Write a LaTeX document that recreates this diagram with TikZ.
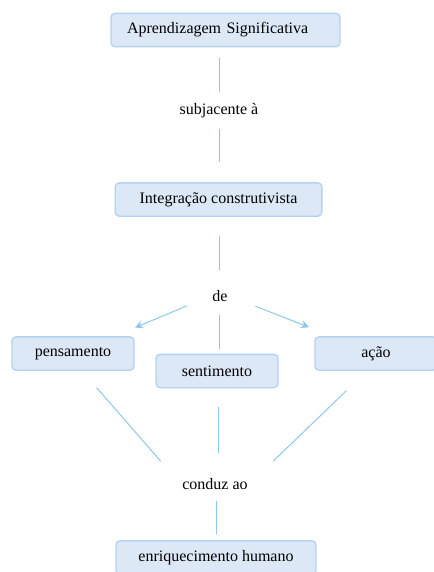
\documentclass[tikz,border=0pt]{standalone}
\usepackage{fontspec}
\setmainfont{Liberation Serif}
\usetikzlibrary{arrows.meta}
\definecolor{boxfill}{RGB}{220,232,246}
\definecolor{boxline}{RGB}{180,210,240}
\definecolor{linkline}{RGB}{140,200,235}
\tikzset{
	conceito/.style={draw=boxline, fill=boxfill, rounded corners=3pt, line width=1pt, minimum height=25pt, inner sep=2pt, font=\fontsize{12}{14}\selectfont},
	frase/.style={inner sep=1pt, font=\fontsize{12}{14}\selectfont},
	ligacao/.style={draw=linkline, line width=0.75pt},
	seta/.style={ligacao, -{Stealth[length=6pt,width=6pt]}}}
\tikzset{every picture/.style={line width=0.75pt}}

\begin{document}
\begin{tikzpicture}[x=0.75pt,y=0.75pt,yscale=-1,xscale=1]
	\useasboundingbox (0,0) rectangle (433,572);

	% Conceitos
	\node [conceito, inner xsep=12pt, text width=147.75pt, align=left] (aprend) at (225.5,30) {Aprendizagem Significativa};
	\node [conceito, minimum width=155pt] (integ) at (218.5,199.5) {Integração construtivista};
	\node [conceito, minimum width=91.5pt] (pens) at (73,353.5) {pensamento};
	\node [conceito, minimum width=91.5pt] (sent) at (217,371) {sentimento};
	\node [conceito, minimum width=91.5pt] (acao) at (376,353.5) {ação};
	\node [conceito, minimum width=150pt] (enriq) at (216,557.5) {enriquecimento humano};

	% Frases de ligacao
	\node [frase] (subj) at (219,111) {subjacente à};
	\node [frase] (de) at (220,296) {de};
	\node [frase] (conduz) at (215,484) {conduz ao};

	% Ligacoes
	\draw [ligacao, shorten <=8.25pt, shorten >=7.1pt] (subj |- aprend.south) -- (subj.north);
	\draw [ligacao, shorten <=6.4pt, shorten >=15pt] (subj.south) -- (subj |- integ.north);
	\draw [ligacao, shorten <=14.25pt, shorten >=14.25pt] ([xshift=-0.75pt]de |- integ.south) -- ([xshift=-0.75pt]de.north);
	\draw [ligacao, shorten <=9pt, shorten >=3.75pt] ([xshift=-0.75pt]de.south) -- ([xshift=-0.75pt]de |- sent.north);
	\draw [seta, shorten <=19.5pt, shorten >=16.7pt] (de.west) -- (pens);
	\draw [seta, shorten <=21pt, shorten >=18.4pt] (de.east) -- (acao);
	\draw [ligacao, shorten <=16.8pt, shorten >=22.7pt] ([xshift=6.75pt]pens.south) -- (conduz.west);
	\draw [ligacao, shorten <=14.25pt, shorten >=18pt] ([xshift=0.75pt]sent.south) -- ([xshift=0.75pt]sent.south |- conduz.north);
	\draw [ligacao, shorten <=21.5pt, shorten >=24.7pt] ([xshift=-6.75pt]acao.south) -- (conduz.east);
	\draw [ligacao, shorten <=7.5pt, shorten >=4.5pt] (enriq |- conduz.south) -- (enriq.north);

\end{tikzpicture}
\end{document}
